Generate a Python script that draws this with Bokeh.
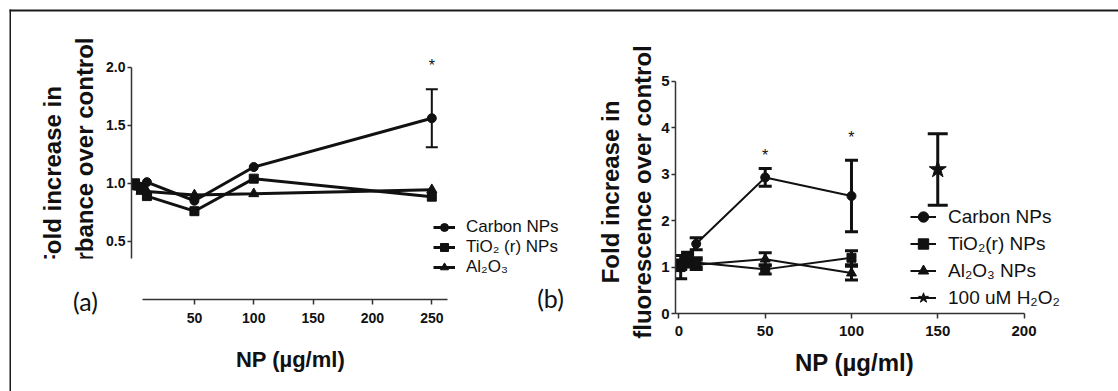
from bokeh.plotting import figure
from bokeh.models import (ColumnDataSource, Whisker, TeeHead, Label, Legend, LegendItem,
                          FixedTicker, Range1d, NumeralTickFormatter)
from bokeh.embed import file_html
from bokeh.resources import INLINE
from bokeh.core.properties import value

# ---------------- Panel (a): absorbance ----------------
xa = [0, 5, 10, 50, 100, 250]
carbon_a = [0.98, 0.97, 1.01, 0.85, 1.14, 1.56]
carbon_a_err = [0, 0, 0, 0, 0, 0.25]
tio2_a = [1.0, 0.95, 0.89, 0.76, 1.04, 0.885]
al2o3_a = [0.97, 0.93, 0.93, 0.90, 0.91, 0.945]
star_a_x = [250]
star_a_y = [2.01]
xticks_a = [50, 100, 150, 200, 250]
yticks_a = [0.5, 1.0, 1.5, 2.0]
legend_a = ["Carbon NPs", "TiO\u2082 (r) NPs", "Al\u2082O\u2083"]

# ---------------- Panel (b): fluorescence ----------------
xb = [0, 1, 5, 10, 50, 100]
carbon_b = [1.0, 1.05, 1.15, 1.5, 2.93, 2.53]
carbon_b_err = [0.05, 0.1, 0.12, 0.13, 0.19, 0.77]
tio2_b = [1.0, 1.0, 1.2, 1.1, 0.95, 1.2]
tio2_b_err = [0.05, 0.25, 0.12, 0.1, 0.1, 0.15]
al2o3_b = [1.0, 1.05, 1.1, 1.05, 1.17, 0.87]
al2o3_b_err = [0.05, 0.08, 0.1, 0.1, 0.14, 0.15]
h2o2_x = [150]
h2o2_y = [3.1]
h2o2_err = [0.77]
star_b_x = [50, 100]
star_b_y = [3.40, 3.78]
xticks_b = [0, 50, 100, 150, 200]
yticks_b = [0, 1, 2, 3, 4, 5]
legend_b = ["Carbon NPs", "TiO\u2082(r) NPs", "Al\u2082O\u2083 NPs", "100 uM H\u2082O\u2082"]

FONT = "Liberation Sans"
INK = "#111111"


def place(obj, left, top):
    obj.styles = {"position": "absolute", "left": f"{left}px", "top": f"{top}px"}
    return obj


def bare(width, height, xr=(0, 1), yr=(0, 1)):
    f = figure(width=width, height=height, x_range=Range1d(*xr), y_range=Range1d(*yr),
               x_axis_location=None, y_axis_location=None, min_border=0, title=None,
               output_backend="svg", toolbar_location=None)
    f.xgrid.visible = False
    f.ygrid.visible = False
    f.outline_line_color = None
    f.background_fill_alpha = 0
    f.border_fill_alpha = 0
    return f


def solid(width, height, color):
    f = bare(width, height)
    f.background_fill_alpha = 1
    f.border_fill_alpha = 1
    f.background_fill_color = color
    f.border_fill_color = color
    return f


def style_axes(p, xbounds, ybounds, xticks, yticks, tick_size, xlabel, xlabel_size, ylabel):
    for ax in (p.xaxis[0], p.yaxis[0]):
        ax.axis_line_color = "#333333"
        ax.axis_line_width = 1.5
        ax.major_tick_line_color = "#333333"
        ax.major_tick_line_width = 1.5
        ax.major_tick_out = 5
        ax.major_tick_in = 0
        ax.minor_tick_line_color = None
        ax.major_label_text_font = FONT
        ax.major_label_text_font_style = "bold"
        ax.major_label_text_font_size = tick_size
        ax.major_label_text_color = INK
        ax.axis_label_text_font = FONT
        ax.axis_label_text_font_style = "bold"
        ax.axis_label_text_color = INK
    p.xaxis[0].axis_label_text_font_size = xlabel_size
    p.yaxis[0].axis_label_text_font_size = "24px"
    p.xaxis[0].bounds = xbounds
    p.yaxis[0].bounds = ybounds
    p.xaxis[0].ticker = FixedTicker(ticks=xticks)
    p.yaxis[0].ticker = FixedTicker(ticks=yticks)
    p.xaxis[0].axis_label = xlabel
    p.yaxis[0].axis_label = ylabel
    p.yaxis[0].major_tick_out = 4
    p.xgrid.visible = False
    p.ygrid.visible = False
    p.outline_line_color = None


def whiskers(p, xs, ys, errs, cap, lw):
    keep = [i for i, e in enumerate(errs) if e > 0]
    src = ColumnDataSource(dict(
        x=[xs[i] for i in keep],
        upper=[ys[i] + errs[i] for i in keep],
        lower=[ys[i] - errs[i] for i in keep]))
    w = Whisker(base="x", upper="upper", lower="lower", source=src,
                line_color=INK, line_width=lw,
                upper_head=TeeHead(size=cap, line_color=INK, line_width=lw),
                lower_head=TeeHead(size=cap, line_color=INK, line_width=lw))
    p.add_layout(w)


def legend_fig(width, height, specs, loc, lw, glyph_w, row_h, standoff, font_size):
    # the key box: the series are plotted here too but lie outside this box's ranges,
    # so only the legend swatches show
    f = bare(width, height, xr=(-1000, -999), yr=(-1000, -999))
    items = []
    for lab, xs, ys, mk, sz in specs:
        ln = f.line(xs, ys, line_width=lw, line_color=INK)
        sc = f.scatter(xs, ys, marker=mk, size=sz, fill_color=INK, line_color=INK)
        items.append(LegendItem(label=lab, renderers=[ln, sc]))
    leg = Legend(items=items, location=loc, background_fill_alpha=0,
                 border_line_alpha=0, padding=0, margin=0, spacing=0,
                 glyph_width=glyph_w, glyph_height=row_h, label_height=row_h,
                 label_standoff=standoff, label_text_font=FONT,
                 label_text_font_size=font_size, label_text_color=INK)
    f.add_layout(leg, "center")
    return f


# ================= Figure (a) =================
pa = figure(width=448, height=374, x_range=Range1d(-3, 264.9), y_range=Range1d(0, 2.1),
            output_backend="svg", toolbar_location=None,
            min_border_left=120, min_border_right=10, min_border_top=44, min_border_bottom=86)
style_axes(pa, (6, 263), (0.35, 2.0), xticks_a, yticks_a, "14px",
           "NP (\u00b5g/ml)", "22px", "Fold increase in\nabsorbance over control")
pa.yaxis[0].formatter = NumeralTickFormatter(format="0.0")
pa.xaxis[0].major_label_standoff = 8
pa.xaxis[0].axis_label_standoff = 21
pa.yaxis[0].major_label_standoff = 2
pa.yaxis[0].axis_label_standoff = 5

series_a = [(carbon_a, "circle", 9), (tio2_a, "square", 9), (al2o3_a, "triangle", 10)]
for ys, mk, sz in series_a:
    pa.line(xa, ys, line_width=3, line_color=INK)
    pa.scatter(xa, ys, marker=mk, size=sz, fill_color=INK, line_color=INK)
whiskers(pa, xa, carbon_a, carbon_a_err, 12, 2)
pa.text(x=star_a_x, y=star_a_y, text=["*"] * len(star_a_x), text_align="center",
        text_baseline="middle", text_font=value(FONT), text_font_size="16px",
        text_color=INK)
place(pa, 11, 11)

# ================= Figure (b) =================
pb = figure(width=468, height=374, x_range=Range1d(-2, 205.5), y_range=Range1d(0, 5.232),
            output_backend="svg", toolbar_location=None,
            min_border_left=100, min_border_right=10, min_border_top=59, min_border_bottom=72)
style_axes(pb, (-2, 200), (0, 5), xticks_b, yticks_b, "15px",
           "NP (\u00b5g/ml)", "24px", "Fold increase in\nfluorescence over control")
pb.xaxis[0].major_label_standoff = 7
pb.xaxis[0].axis_label_standoff = 10
pb.yaxis[0].major_label_standoff = 2
pb.yaxis[0].axis_label_standoff = 2

series_b = [(carbon_b, carbon_b_err, "circle", 9), (tio2_b, tio2_b_err, "square", 9),
            (al2o3_b, al2o3_b_err, "triangle", 10)]
for ys, errs, mk, sz in series_b:
    whiskers(pb, xb, ys, errs, 13, 3)
    pb.line(xb, ys, line_width=2, line_color=INK)
    pb.scatter(xb, ys, marker=mk, size=sz, fill_color=INK, line_color=INK)
whiskers(pb, h2o2_x, h2o2_y, h2o2_err, 20, 3)
pb.scatter(h2o2_x, h2o2_y, marker="star", size=18, fill_color=INK, line_color=INK)
pb.text(x=star_b_x, y=star_b_y, text=["*"] * len(star_b_x), text_align="center",
        text_baseline="middle", text_font=value(FONT), text_font_size="16px",
        text_color=INK)
place(pb, 575, 11)

# ================= legends, panel tags =================
lega = legend_fig(135, 65,
                  [(legend_a[0], xa, carbon_a, "circle", 9),
                   (legend_a[1], xa, tio2_a, "square", 9),
                   (legend_a[2], xa, al2o3_a, "triangle", 10)],
                  (0, 3), 3, 22, 20, 11, "17px")
place(lega, 433, 215)

legb = legend_fig(165, 112,
                  [(legend_b[0], xb, carbon_b, "circle", 9),
                   (legend_b[1], xb, tio2_b, "square", 9),
                   (legend_b[2], xb, al2o3_b, "triangle", 10),
                   (legend_b[3], h2o2_x, h2o2_y, "star", 17)],
                  (2, 1), 2, 26, 27, 12, "19px")
place(legb, 908, 200)

# white patch hiding the lower part of panel (a)'s y title, with the "(a)" tag
tag_a = solid(115, 64, "white")
tag_a.add_layout(Label(x=70, y=22, x_units="screen", y_units="screen", text="(a)",
                       text_align="center", text_baseline="middle", text_font="Lato",
                       text_font_size="25px", text_color=INK))
place(tag_a, 15, 258)

tag_b = bare(44, 36)
tag_b.add_layout(Label(x=22, y=18, x_units="screen", y_units="screen", text="(b)",
                       text_align="center", text_baseline="middle", text_font="Lato",
                       text_font_size="25px", text_color=INK))
place(tag_b, 528, 279)

# outer frame lines (top and left) of the composite picture:
# the top line is the 2px plot area at the top of a transparent strip
edge_top = bare(1109, 30)
edge_top.min_border_bottom = 28
edge_top.background_fill_alpha = 1
edge_top.background_fill_color = "#1a1a1a"
place(edge_top, 9, 9)
edge_left = place(solid(2, 382, "#1a1a1a"), 9, 9)

roots = [pa, pb, lega, legb, tag_a, tag_b, edge_top, edge_left]
open("out.html", "w").write(file_html(roots, INLINE))
